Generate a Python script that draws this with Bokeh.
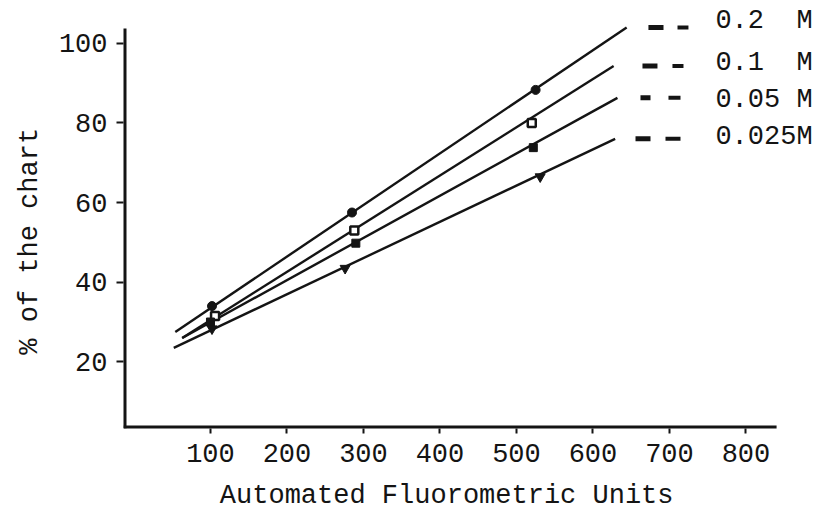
from bokeh.plotting import figure
from bokeh.models import FixedTicker, Range1d
from bokeh.core.properties import value
from bokeh.embed import file_html
from bokeh.resources import INLINE

NB = "\u00a0"

# ---- data ----
series_names = ["0.2" + NB * 2 + "M", "0.1" + NB * 2 + "M", "0.05" + NB + "M", "0.025M"]

# fitted straight lines (start / end) for each concentration
line_x_start = [54, 63, 63, 52]
line_y_start = [27.5, 26.0, 26.0, 23.5]
line_x_end = [644, 627, 632, 629]
line_y_end = [104.0, 94.3, 86.3, 76.0]

# measured points
x_02 = [102, 285, 525]
y_02 = [34.0, 57.5, 88.3]
x_01 = [106, 288, 520]
y_01 = [31.5, 53.0, 80.0]
x_005 = [100, 290, 522]
y_005 = [30.0, 49.8, 73.8]
x_0025 = [102, 276, 531]
y_0025 = [28.3, 43.5, 66.5]

x_ticks = [100, 200, 300, 400, 500, 600, 700, 800]
y_ticks = [20, 40, 60, 80, 100]

# ---- layout / style ----
FONT = "Liberation Mono"
FS = "27px"
INK = "#141414"
X_AXIS_MIN, X_AXIS_MAX = -13.7, 840      # drawn extent of the x axis
Y_AXIS_MIN, Y_AXIS_MAX = 3.25, 103.7     # drawn extent of the y axis
LEG_DASH1_X0 = [672.5, 664.7, 662.1, 655.6]
LEG_DASH1_X1 = [692.2, 684.3, 675.2, 675.2]
LEG_DASH2_X0 = [710.5, 703.9, 698.7, 694.8]
LEG_DASH2_X1 = [724.8, 718.3, 714.4, 714.4]
LEG_TEXT_X = 760
LEG_TEXT_Y = [105.7, 95.0, 85.8, 76.5]

p = figure(width=820, height=513,
           x_range=Range1d(X_AXIS_MIN, 894.8), y_range=Range1d(Y_AXIS_MIN, 109.5),
           output_backend="svg", toolbar_location=None,
           min_border_left=123, min_border_right=2,
           min_border_top=5, min_border_bottom=83)
p.outline_line_color = None
p.xgrid.grid_line_color = None
p.ygrid.grid_line_color = None
p.background_fill_color = "white"
p.border_fill_color = "white"

for ax in (p.xaxis[0], p.yaxis[0]):
    ax.axis_line_color = None
    ax.major_tick_line_color = INK
    ax.major_tick_line_width = 2
    ax.major_tick_in = 0
    ax.minor_tick_line_color = None
    ax.major_label_text_font = FONT
    ax.major_label_text_font_size = FS
    ax.major_label_text_color = INK
    ax.axis_label_text_font = FONT
    ax.axis_label_text_font_size = FS
    ax.axis_label_text_font_style = "normal"
    ax.axis_label_text_color = INK

p.xaxis.ticker = FixedTicker(ticks=x_ticks)
p.yaxis.ticker = FixedTicker(ticks=y_ticks)
p.xaxis.major_tick_out = 5
p.yaxis.major_tick_out = 7
p.xaxis.major_label_standoff = 10
p.yaxis.major_label_standoff = 9
p.xaxis.axis_label = "Automated Fluorometric Units" + NB * 3
p.yaxis.axis_label = "% of the chart" + NB * 3
p.xaxis.axis_label_standoff = 16
p.yaxis.axis_label_standoff = 11

# axis lines (only as long as in the original drawing)
p.line([X_AXIS_MIN, X_AXIS_MAX], [Y_AXIS_MIN, Y_AXIS_MIN], line_color=INK, line_width=6)
p.line([X_AXIS_MIN, X_AXIS_MIN], [Y_AXIS_MIN, Y_AXIS_MAX], line_color=INK, line_width=6)

# fitted lines
for i in range(4):
    p.line([line_x_start[i], line_x_end[i]], [line_y_start[i], line_y_end[i]],
           line_color=INK, line_width=2.4)

# points
p.scatter(x_02, y_02, marker="circle", size=9, fill_color=INK, line_color=INK)
p.scatter(x_01, y_01, marker="square", size=8, fill_color="white", line_color=INK, line_width=2.5)
p.scatter(x_005, y_005, marker="square", size=8, fill_color=INK, line_color=INK)
p.scatter(x_0025, y_0025, marker="inverted_triangle", size=10, fill_color=INK, line_color=INK)

# typewritten legend: "- -" followed by the concentration
p.segment(x0=LEG_DASH1_X0, x1=LEG_DASH1_X1, y0=line_y_end, y1=line_y_end,
          line_color=INK, line_width=5)
p.segment(x0=LEG_DASH2_X0, x1=LEG_DASH2_X1, y0=line_y_end, y1=line_y_end,
          line_color=INK, line_width=4)
p.text(x=[LEG_TEXT_X] * 4, y=LEG_TEXT_Y, text=series_names,
       text_font=value(FONT), text_font_size=FS, text_color=INK,
       text_baseline="middle", text_align="left")

open("out.html", "w").write(file_html(p, INLINE))
